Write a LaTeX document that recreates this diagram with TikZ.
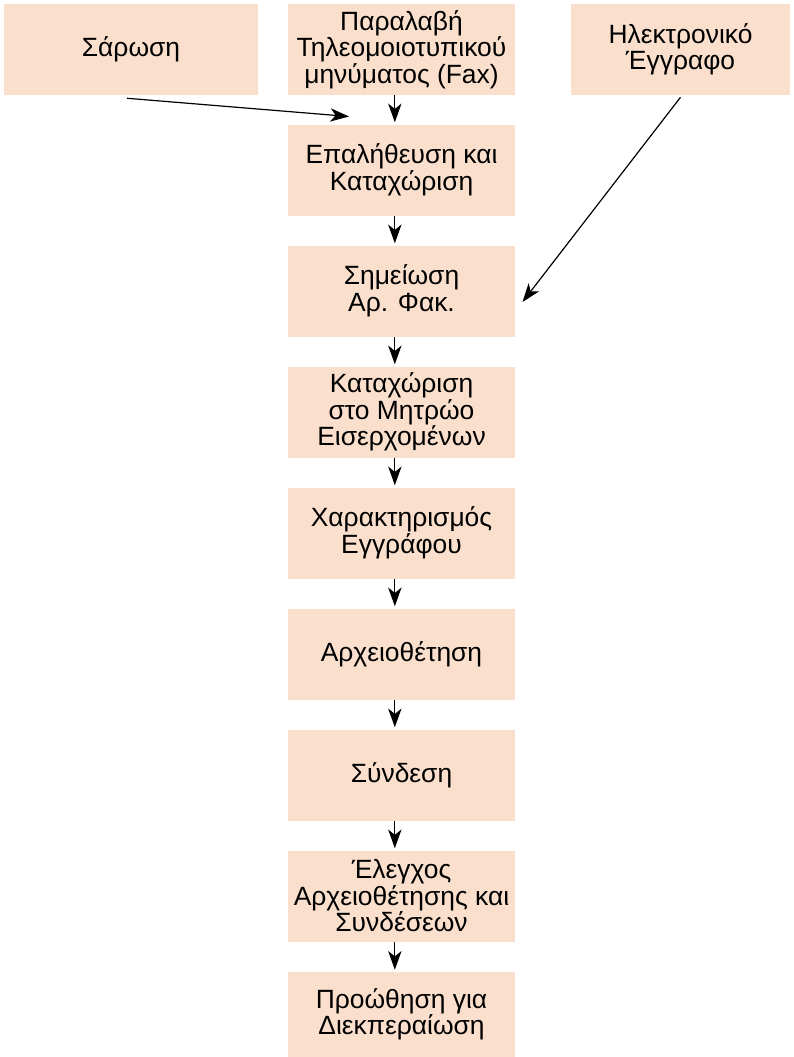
\documentclass[tikz,border=0pt]{standalone}
\usepackage{fontspec}
\setmainfont{Liberation Sans}
\usetikzlibrary{arrows.meta}
\definecolor{boxfill}{HTML}{FADFCC}
\tikzset{
    stepbox/.style={fill=boxfill,minimum width=170.25pt,minimum height=68.25pt,align=center,inner sep=0pt,font=\fontsize{19.8}{19.9}\selectfont},
    flow/.style={line width=0.9pt,-{Stealth[length=14pt,width=10pt,inset=4pt]}},
}
\begin{document}
\begin{tikzpicture}[x=0.75pt,y=-0.75pt]
    \useasboundingbox (0,0) rectangle (793,1057);
    % top row
    \node[stepbox,minimum width=190.5pt] (sar) at (131,49.5) {Σάρωση};
    \node[stepbox] (fax) at (401.5,49.5) {Παραλαβή\\Τηλεομοιοτυπικού\\μηνύματος (Fax)};
    \node[stepbox,minimum width=164.25pt] (hlek) at (680.5,49.5) {Ηλεκτρονικό\\Έγγραφο};
    % main column
    \node[stepbox] (epal) at (401.5,170) {Επαλήθευση και\\Καταχώριση};
    \node[stepbox] (shm) at (401.5,291) {Σημείωση\\Αρ. Φακ.};
    \node[stepbox] (mitr) at (401.5,412) {Καταχώριση\\στο Μητρώο\\Εισερχομένων};
    \node[stepbox] (xar) at (401.5,533) {Χαρακτηρισμός\\Εγγράφου};
    \node[stepbox] (arx) at (401.5,654) {Αρχειοθέτηση};
    \node[stepbox] (synd) at (401.5,775) {Σύνδεση};
    \node[stepbox] (eleg) at (401.5,896) {Έλεγχος\\Αρχειοθέτησης και\\Συνδέσεων};
    \node[stepbox,minimum height=63.75pt] (prow) at (401.5,1014.5) {Προώθηση για\\Διεκπεραίωση};
    % arrows down the column
    \foreach \a/\b in {fax/epal,epal/shm,shm/mitr,mitr/xar,xar/arx,arx/synd,synd/eleg,eleg/prow}
        \draw[flow,shorten >=1.5pt] ([xshift=-5pt]\a.south) -- ([xshift=-5pt]\b.north);
    % side inputs
    \coordinate (sarend) at (349,116.5);
    \coordinate (hlekend) at (522.5,302);
    \draw[flow] ([xshift=-3pt,yshift=-2.25pt]sar.south) -- (sarend);
    \draw[flow] ([yshift=-1.5pt]hlek.south) -- (hlekend);
\end{tikzpicture}
\end{document}
